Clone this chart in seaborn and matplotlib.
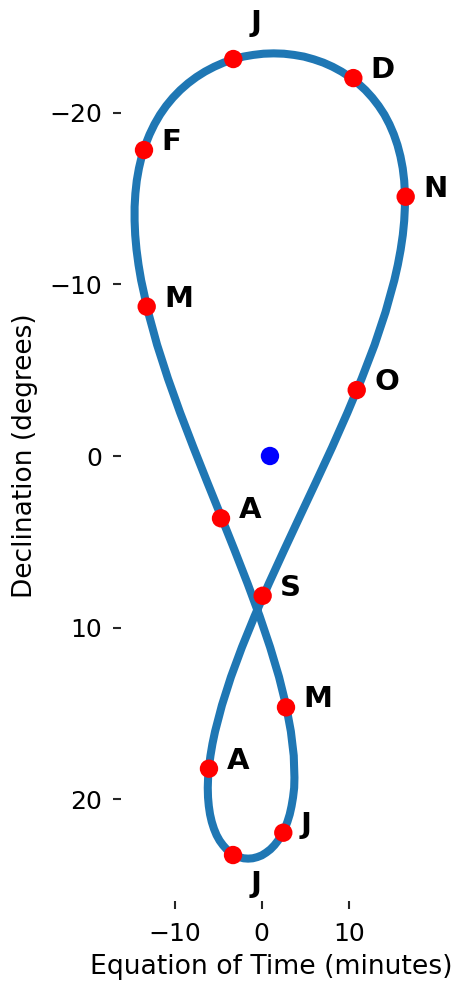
import numpy as np
import pandas as pd
import matplotlib
matplotlib.use("Agg")
import matplotlib.pyplot as plt
import seaborn as sns

# Analemma curve, starting 1 Jan (denser where the curve bends)
eot = [
    # Jan - late Feb
    -3.26, -4.37, -5.45, -6.50, -7.50, -8.45, -9.35, -10.19, -10.97, -11.67, -12.31, -12.87,
    -13.36, -13.77, -14.09, -14.34, -14.50, -14.59, -14.59, -14.52, -14.37, -14.14, -13.84,
    # Mar - mid May
    -13.04, -12.01, -10.76, -9.36, -7.84, -6.26, -4.66, -3.10, -1.61, -0.24, 0.97, 1.99,
    2.79, 3.35, 3.68, 3.76,
    # mid May - early Aug
    3.73, 3.60, 3.43, 3.22, 2.95, 2.64, 2.28, 1.89, 1.46, 1.00, 0.51, 0.01, -0.50, -1.03,
    -1.55, -2.08, -2.59, -3.09, -3.57, -4.02, -4.44, -4.83, -5.18, -5.48, -5.73, -5.93,
    -6.07, -6.16, -6.19, -6.15, -6.05, -5.88, -5.65, -5.35,
    # Aug - mid Oct
    -4.56, -3.53, -2.27, -0.81, 0.81, 2.56, 4.38, 6.24, 8.08, 9.84, 11.48, 12.96, 14.22, 15.23,
    # mid Oct - end Dec
    15.63, 15.95, 16.20, 16.36, 16.44, 16.44, 16.36, 16.19, 15.93, 15.59, 15.17, 14.67, 14.09,
    13.43, 12.70, 11.91, 11.05, 10.13, 9.16, 8.14, 7.08, 5.99, 4.86, 3.72, 2.56, 1.38, 0.21,
    -0.96, -2.12,
]
decl = [
    -23.10, -22.91, -22.67, -22.39, -22.07, -21.71, -21.31, -20.87, -20.39, -19.88, -19.32, -18.73,
    -18.11, -17.45, -16.76, -16.04, -15.29, -14.51, -13.70, -12.87, -12.02, -11.14, -10.24,
    -8.39, -6.48, -4.51, -2.52, -0.51, 1.51, 3.52, 5.50, 7.44, 9.32, 11.14, 12.87,
    14.51, 16.04, 17.45, 18.73,
    19.32, 19.88, 20.39, 20.87, 21.31, 21.71, 22.07, 22.39, 22.67, 22.91, 23.10, 23.26, 23.36, 23.43,
    23.45, 23.43, 23.36, 23.26, 23.10, 22.91, 22.67, 22.40, 22.08, 21.71, 21.31, 20.87,
    20.39, 19.88, 19.32, 18.73, 18.11, 17.45, 16.76, 16.04,
    14.51, 12.87, 11.14, 9.32, 7.44, 5.50, 3.52, 1.51, -0.50, -2.52, -4.51, -6.47, -8.39, -10.24,
    -11.14, -12.01, -12.87, -13.70, -14.51, -15.29, -16.04, -16.76, -17.45, -18.11, -18.73, -19.32, -19.88,
    -20.39, -20.87, -21.31, -21.71, -22.07, -22.39, -22.67, -22.91, -23.10, -23.26, -23.36, -23.43, -23.45,
    -23.43, -23.36, -23.26,
]

# First-of-month markers
month_labels = ["J", "F", "M", "A", "M", "J", "J", "A", "S", "O", "N", "D"]
month_eot = [-3.26, -13.51, -13.20, -4.67, 2.79, 2.48, -3.29, -6.05, 0.11, 10.91, 16.53, 10.52]
month_decl = [-23.12, -17.82, -8.70, 3.63, 14.64, 21.94, 23.24, 18.21, 8.14, -3.84, -15.10, -22.01]

# Centre point
center_eot = [0.95]
center_decl = [0.0]

x_ticks = [-10, 0, 10]
y_ticks = [-20, -10, 0, 10, 20]

sns.set_style("ticks")
plt.rcParams["font.family"] = ["DejaVu Sans"]
plt.rcParams["text.color"] = "black"
plt.rcParams["axes.labelcolor"] = "black"

fig = plt.figure(figsize=(4.54, 9.85), dpi=100)
ax = fig.add_axes([121 / 454, 1 - 900.7 / 985, (421.1 - 121) / 454, (900.7 - 11.3) / 985])

curve = pd.DataFrame({"eot": eot + eot[:1], "decl": decl + decl[:1]})
sns.lineplot(data=curve, x="eot", y="decl", sort=False, estimator=None,
             color="#1f77b4", lw=5.8, ax=ax)

months = pd.DataFrame({"eot": month_eot, "decl": month_decl, "label": month_labels})
sns.scatterplot(data=months, x="eot", y="decl", color="red", s=175,
                edgecolor="none", linewidth=0, zorder=3, ax=ax)
sns.scatterplot(x=center_eot, y=center_decl, color="blue", s=175,
                edgecolor="none", linewidth=0, zorder=3, ax=ax)

label_dy = {0: -1.65, 6: 2.18}
for i, row in months.iterrows():
    ax.text(row["eot"] + 2, row["decl"] + label_dy.get(i, 0), row["label"],
            fontsize=21, fontweight="bold", color="black")

ax.set_xlim(-16.15, 18.3)
ax.set_ylim(25.9, -25.9)
ax.set_xticks(x_ticks)
ax.set_yticks(y_ticks)
ax.tick_params(labelsize=18, length=6, width=1.5, color=".15", labelcolor="black")
ax.tick_params(axis="x", pad=9)
ax.tick_params(axis="y", pad=7.7)
ax.set_xlabel("Equation of Time (minutes)", fontsize=19.2, labelpad=6)
ax.set_ylabel("Declination (degrees)", fontsize=19, labelpad=8)
sns.despine(ax=ax, left=True, bottom=True)

fig.savefig("out.png", dpi=100)
